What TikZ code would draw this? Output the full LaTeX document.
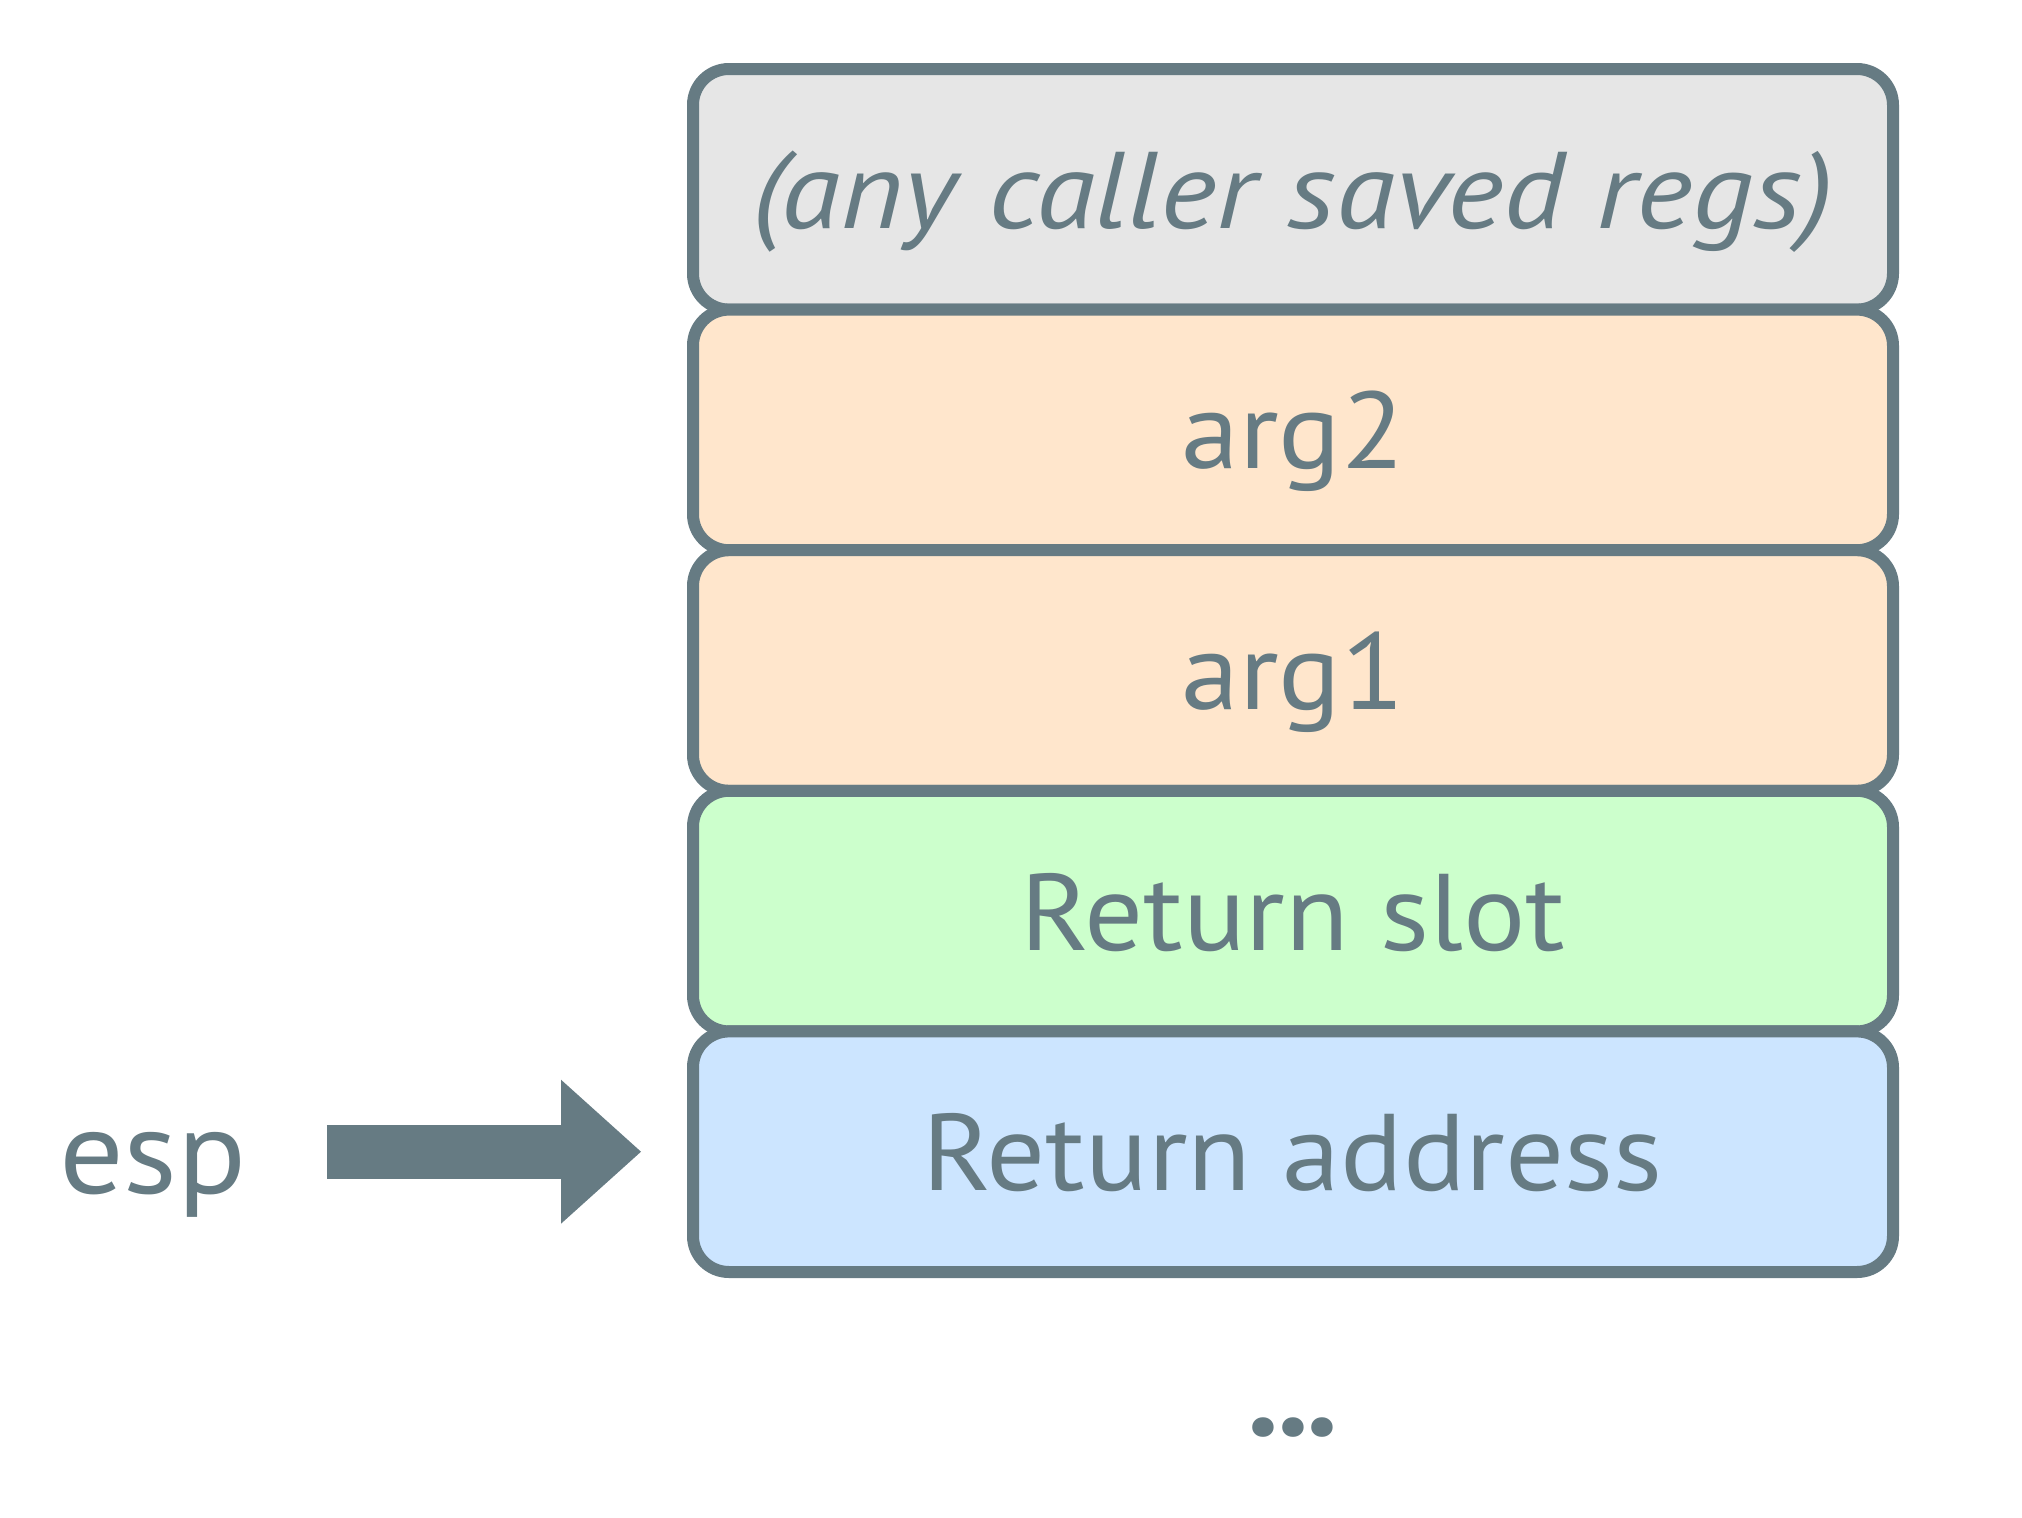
\documentclass[tikz,border=0pt]{standalone}
\usepackage{fontspec}
\setmainfont{PT Sans}[FakeStretch=1.07,ItalicFeatures={FakeStretch=1.11}]
\newfontfamily\dotfont{Poppins}
\usetikzlibrary{positioning,arrows.meta}
\definecolor{slate}{HTML}{667B83}
\definecolor{greyfill}{HTML}{E6E6E6}
\definecolor{peach}{HTML}{FFE6CC}
\definecolor{mint}{HTML}{CCFFCC}
\definecolor{sky}{HTML}{CCE5FF}
\tikzset{
    cell/.style =   {rectangle,
                    draw=slate,
                    text=slate,
                    line width=0.12cm,
                    rounded corners=0.36cm,
                    outer sep=0pt,
                    minimum width=12cm,
                    minimum height=2.406cm,
                    text height=0.78cm,
                    text depth=0pt,
                    font=\fontsize{31}{36}\selectfont},
    label/.style =  {text=slate,
                    inner sep=0pt,
                    font=\fontsize{34}{38}\selectfont},
    pointer/.style = {draw=slate,
                    line width=0.54cm,
                    -{Triangle[length=0.8cm,width=1.44cm,line width=0pt]},
                    shorten >=0.52cm}
}
\begin{document}
\begin{tikzpicture}[node distance=0pt]
                \useasboundingbox (0,0) rectangle (20.22,-15.18);
                \node[cell,fill=greyfill]   (saved)                         at (12.93,-1.893)   {\itshape (any caller saved regs)};
                \node[cell,fill=peach]      (argtwo)  [below=of saved]                          {arg2};
                \node[cell,fill=peach]      (argone)  [below=of argtwo]                         {arg1};
                \node[cell,fill=mint]       (retslot) [below=of argone]                         {Return slot};
                \node[cell,fill=sky]        (retaddr) [below=of retslot]                        {Return address};
                \node[label,anchor=base]    (esp)                           at (1.53,-11.93)    {esp};
                \node[label,font=\dotfont\fontsize{30}{34}\selectfont\bfseries]
                                            (dots)    [below=1.45cm of retaddr]                 {...};
                \coordinate[left=3.66cm of retaddr.west] (tail);

                \draw [pointer] (tail) -- (retaddr.west);
\end{tikzpicture}
\end{document}
